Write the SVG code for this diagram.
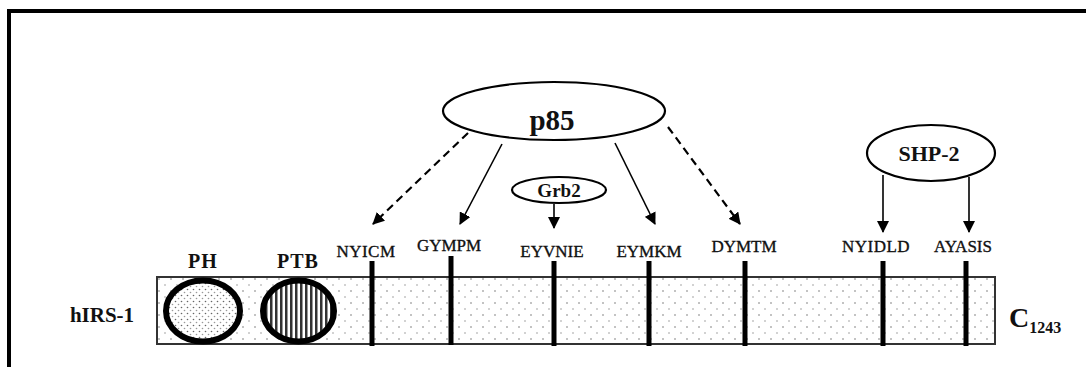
<svg xmlns="http://www.w3.org/2000/svg" width="1086" height="367" viewBox="0 0 1086 367">
<style>
.lbl{font-family:"Liberation Serif",serif;font-size:17px;fill:#111;stroke:#111;stroke-width:0.35;text-anchor:middle}
.b{font-family:"Liberation Serif",serif;font-weight:bold;fill:#111;text-anchor:middle}
.node{fill:#fff;stroke:#000;stroke-width:2.2}
.conn{stroke:#000;stroke-width:1.6;fill:none;marker-end:url(#ah)}
.dash{stroke-dasharray:8 5;stroke-width:2.2}
.site{stroke:#000;stroke-width:5}
</style>
<defs>
<marker id="ah" viewBox="0 0 12 12" refX="11" refY="6" markerWidth="12" markerHeight="12" markerUnits="userSpaceOnUse" orient="auto">
<path d="M0,0 L12,6 L0,12 z" fill="#000"/>
</marker>
<pattern id="barDots" width="12" height="12" patternUnits="userSpaceOnUse">
<rect width="12" height="12" fill="#fff"/>
<circle cx="3" cy="3" r="0.8" fill="#777"/>
<circle cx="9" cy="9" r="0.8" fill="#999"/>
</pattern>
<pattern id="phDots" width="6" height="6" patternUnits="userSpaceOnUse">
<rect width="6" height="6" fill="#fff"/>
<circle cx="1.5" cy="1.5" r="0.8" fill="#666"/>
<circle cx="4.5" cy="4.5" r="0.8" fill="#999"/>
</pattern>
<pattern id="ptbStripes" width="5" height="10" patternUnits="userSpaceOnUse">
<rect width="5" height="10" fill="#fff"/>
<rect x="0" width="2.5" height="10" fill="#333"/>
</pattern>
</defs>
<rect x="9" y="11" width="1090" height="370" fill="none" stroke="#000" stroke-width="4"/>

<g id="protein">
<rect x="157" y="277" width="838" height="67" fill="url(#barDots)" stroke="#333" stroke-width="2"/>
</g>
<g id="PH">
<ellipse cx="203" cy="311" rx="37" ry="30.5" fill="url(#phDots)" stroke="#000" stroke-width="6"/>
<text class="b" x="203" y="268" font-size="20" letter-spacing="1">PH</text>
</g>
<g id="PTB">
<ellipse cx="298.5" cy="311" rx="35.5" ry="30.5" fill="url(#ptbStripes)" stroke="#000" stroke-width="6"/>
<text class="b" x="298" y="268" font-size="20" letter-spacing="1">PTB</text>
</g>
<g id="label-hIRS1"><text class="b" x="102" y="322" font-size="21">hIRS-1</text></g>
<g id="label-C"><text class="b" x="1009" y="327" font-size="28" style="text-anchor:start">C<tspan font-size="16" dy="6">1243</tspan></text></g>

<g id="site-NYICM"><line class="site" x1="372" y1="261" x2="372" y2="346"/><text class="lbl" x="366" y="257" letter-spacing="0.5">NYICM</text></g>
<g id="site-GYMPM"><line class="site" x1="451" y1="256" x2="451" y2="345"/><text class="lbl" x="449" y="251">GYMPM</text></g>
<g id="site-EYVNIE"><line class="site" x1="554" y1="261" x2="554" y2="346"/><text class="lbl" x="552" y="257">EYVNIE</text></g>
<g id="site-EYMKM"><line class="site" x1="649" y1="261" x2="649" y2="346"/><text class="lbl" x="649" y="257">EYMKM</text></g>
<g id="site-DYMTM"><line class="site" x1="745" y1="261" x2="745" y2="346"/><text class="lbl" x="744" y="252">DYMTM</text></g>
<g id="site-NYIDLD"><line class="site" x1="883" y1="261" x2="883" y2="346"/><text class="lbl" x="876" y="252" letter-spacing="0.5">NYIDLD</text></g>
<g id="site-AYASIS"><line class="site" x1="966" y1="261" x2="966" y2="346"/><text class="lbl" x="963" y="252">AYASIS</text></g>

<g id="p85">
<ellipse class="node" cx="554" cy="111" rx="111" ry="29"/>
<text class="b" x="552" y="130" font-size="29">p85</text>
</g>
<g id="Grb2">
<ellipse class="node" cx="559" cy="190" rx="47" ry="13"/>
<text class="b" x="559" y="197" font-size="19">Grb2</text>
</g>
<g id="SHP2">
<ellipse class="node" cx="931" cy="153" rx="64" ry="28"/>
<text class="b" x="929" y="161" font-size="22">SHP-2</text>
</g>

<g id="connectors">
<line class="conn dash" x1="468" y1="133" x2="373" y2="224"/>
<line class="conn" x1="502" y1="144" x2="460" y2="224"/>
<line class="conn" x1="554" y1="204" x2="554" y2="228"/>
<line class="conn" x1="615" y1="143" x2="655" y2="224"/>
<line class="conn dash" x1="668" y1="127" x2="740" y2="224"/>
<line class="conn" x1="883" y1="175" x2="883" y2="232"/>
<line class="conn" x1="969" y1="177" x2="969" y2="232"/>
</g>
</svg>
